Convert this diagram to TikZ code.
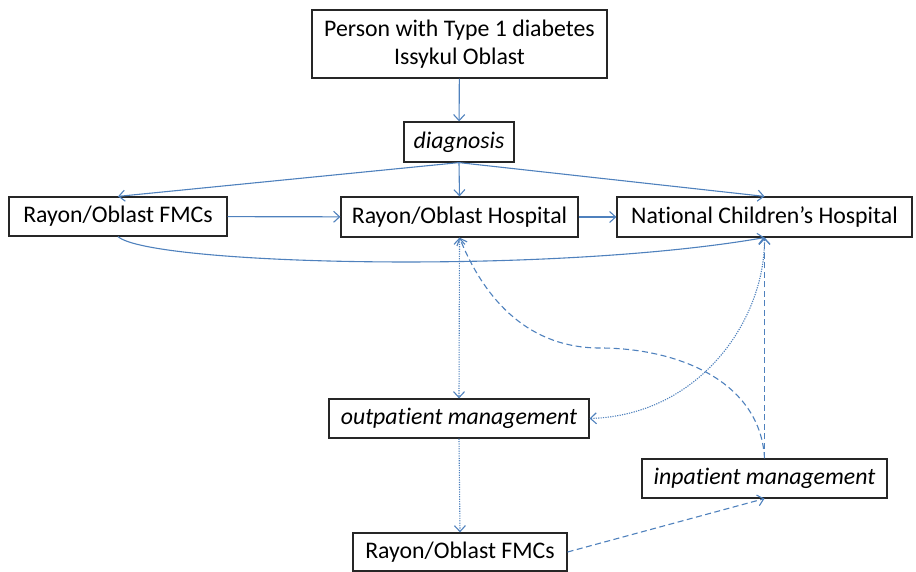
\documentclass[tikz,border=0pt]{standalone}
\usepackage{fontspec}
\setmainfont[Ligatures=NoCommon]{Carlito}
\usetikzlibrary{arrows.meta}
\definecolor{lineblue}{RGB}{79,129,189}
\begin{document}
\begin{tikzpicture}[x=1pt,y=-1pt,
  box/.style={draw=black!85, line width=1.2pt, inner sep=0pt, align=center,
    font=\fontsize{23.8}{28}\selectfont},
  ibox/.style={box, font=\fontsize{23.8}{28}\selectfont\itshape},
  conn/.style={draw=lineblue, line width=1.1pt, -{Straight Barb[length=6pt,width=11pt]}},
  bconn/.style={conn, {Straight Barb[length=6pt,width=11pt]}-{Straight Barb[length=6pt,width=11pt]}},
  dotline/.style={dash pattern=on 1.2pt off 1.2pt},
  dashline/.style={dash pattern=on 6pt off 3.5pt}
]
\useasboundingbox (0,0) rectangle (916,572);

\node[box, minimum width=295, minimum height=68] (top) at (459.5,44) {Person with Type 1 diabetes\\Issykul Oblast};
\node[ibox, minimum width=110, minimum height=40] (d) at (459,142) {diagnosis};
\node[box, minimum width=218, minimum height=39] (f1) at (118,216.5) {Rayon/Oblast FMCs};
\node[box, minimum width=237, minimum height=40] (h) at (459.5,217) {Rayon/Oblast Hospital};
\node[box, minimum width=295, minimum height=40] (n) at (764.5,217) {National Children’s Hospital};
\node[ibox, minimum width=260, minimum height=39] (o) at (459,418.5) {outpatient management};
\node[ibox, minimum width=245, minimum height=39] (i) at (764.5,478.5) {inpatient management};
\node[box, minimum width=214, minimum height=38] (f2) at (460,552) {Rayon/Oblast FMCs};

\draw[conn] (top) -- (d);
\draw[conn] (d.south) -- (f1.north);
\draw[conn] (d.south) -- (h.north);
\draw[conn] (d.south) -- (n.north);
\draw[conn] (f1) -- (h);
\draw[conn] (h) -- (n);
\draw[conn] (f1.south) .. controls (150,265) and (550,275) .. (n.south);

\draw[bconn, dotline] (h.south) -- (o.north);
\draw[conn, dotline] (o.south) -- (f2.north);
\draw[bconn, dotline] (o.east) .. controls (700,415) and (765,320) .. (n.south);

\draw[conn, dashline] (i.north) to[out=93,in=0] (600,348) to[out=180,in=-68] (h.south);
\draw[conn, dashline] (i.north) -- (n.south);
\draw[conn, dashline] (f2.east) -- (i.south);
\end{tikzpicture}
\end{document}
